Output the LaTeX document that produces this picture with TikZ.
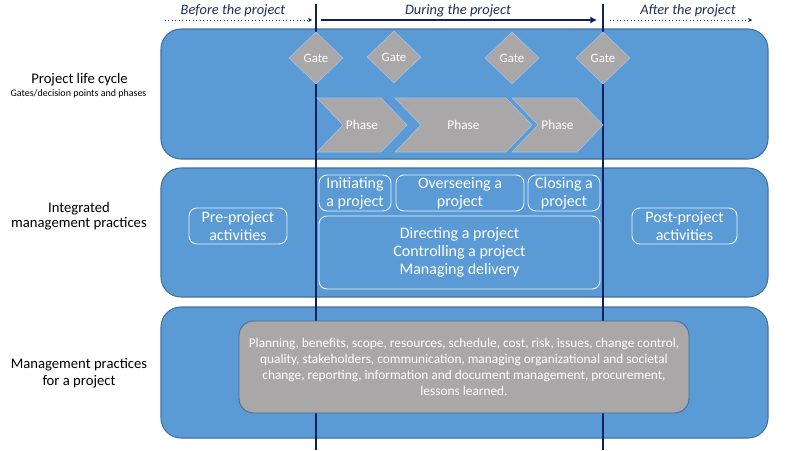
\documentclass[tikz,border=0pt]{standalone}
\usepackage{fontspec}
\setmainfont{Carlito}
\usetikzlibrary{shapes.geometric, positioning, arrows.meta}
\definecolor{bandblue}{RGB}{91,155,213}
\definecolor{bandedge}{RGB}{65,113,156}
\definecolor{navy}{RGB}{14,34,98}
\definecolor{boxgray}{RGB}{169,167,167}
\definecolor{grayedge}{RGB}{165,190,225}
\definecolor{textnavy}{RGB}{31,46,90}

\begin{document}
\begin{tikzpicture}[x=0.75pt,y=-0.75pt,
  band/.style={draw=bandedge,fill=bandblue,rounded corners=15pt,line width=0.8pt},
  vline/.style={draw=navy,line width=1.6pt},
  stage/.style={font=\fontsize{10.8}{12}\selectfont\itshape,text=textnavy},
  gate/.style={diamond,draw=grayedge,fill=boxgray,line width=0.5pt,inner sep=0pt,
    minimum width=40.5pt,minimum height=39pt,text=white,font=\fontsize{9.6}{10}\selectfont},
  phase/.style={draw=grayedge,fill=boxgray,line width=0.5pt},
  ph/.style={text=white,font=\fontsize{10}{12}\selectfont},
  act/.style={draw=white!85!bandblue,rounded corners=6pt,line width=0.7pt,inner sep=0pt,
    text=white,align=center,font=\fontsize{12}{13.5}\selectfont,minimum height=27pt},
  lbl/.style={align=center,font=\fontsize{11}{12.75}\selectfont}]
\useasboundingbox (0,0) rectangle (800,450);

% the three bands
\draw[band] (161,29) rectangle (768,159);
\draw[band] (161,168) rectangle (768,297);
\draw[band] (161,307) rectangle (768,438);

% start and end of the project
\coordinate (s0) at (316,4);
\coordinate (s1) at (316,450);
\coordinate (e0) at (603,4);
\coordinate (e1) at (603,450);
\draw[vline] (s0) -- (s1);
\draw[vline] (e0) -- (e1);

% timeline on top
\coordinate (b0) at (165,20);
\coordinate (b1) at (312,20);
\coordinate (d0) at (321,20);
\coordinate (d1) at (597,20);
\coordinate (a0) at (610,20);
\coordinate (a1) at (752,20);
\draw[navy,dotted,line width=0.6pt,-{Stealth[length=3pt,width=3pt]}] (b0) -- (b1);
\draw[navy,line width=2pt,-{Latex[length=5pt,width=5.5pt]}] (d0) -- (d1);
\draw[navy,dotted,line width=0.6pt,-{Stealth[length=3pt,width=3pt]}] (a0) -- (a1);
\node[stage] (before) at (233,11) {Before the project};
\node[stage] (during) at (458,11) {During the project};
\node[stage] (after) at (688,11) {After the project};

% life cycle: gates and phases
\foreach \a/\b [count=\i] in {317/407,395/532,512/603} {
  \draw[phase] (\a,98) -- (\b-26,98) -- (\b,125) -- (\b-26,152) -- (\a,152) -- (\a+26,125) -- cycle;
  \node[ph] (p\i) at ({(\a+\b)/2},125) {Phase};
}
\foreach \x/\y [count=\i] in {316/58,394/57,512/58,603/58}
  \node[gate] (g\i) at (\x,\y) {Gate};

% integrated management practices
\node[act,minimum width=73.5pt] (pre) at (238,226) {Pre-project\\activities};
\node[act,minimum width=54pt] (init) at (355,193) {Initiating\\a project};
\node[act,minimum width=96pt] (over) at (460,193) {Overseeing a\\project};
\node[act,minimum width=54pt] (close) at (564,193) {Closing a\\project};
\node[act,minimum width=210.75pt,minimum height=54.75pt] (dir) at (459.5,252.5)
  {Directing a project\\Controlling a project\\Managing delivery};
\node[act,minimum width=78.75pt] (post) at (684.5,226) {Post-project\\activities};

% management practices
\node[draw=bandedge,fill=boxgray,rounded corners=11pt,line width=0.7pt,
  minimum width=337.5pt,minimum height=69pt,inner sep=0pt,align=center,text=white,
  font=\fontsize{10}{12}\selectfont] (mp) at (464,367)
  {Planning, benefits, scope, resources, schedule, cost, risk, issues, change control,\\
   quality, stakeholders, communication, managing organizational and societal\\
   change, reporting, information and document management, procurement,\\
   lessons learned.};

% row labels
\node[lbl] (lc) at (79.5,80) {Project life cycle};
\node[font=\fontsize{7.5}{9}\selectfont] (lcsub) at (78.5,94) {Gates/decision points and phases};
\node[lbl,font=\fontsize{11}{11.5}\selectfont] (imp) at (79,216) {Integrated\\management practices};
\node[lbl] (mpl) at (79,373) {Management practices\\for a project};
\end{tikzpicture}
\end{document}
